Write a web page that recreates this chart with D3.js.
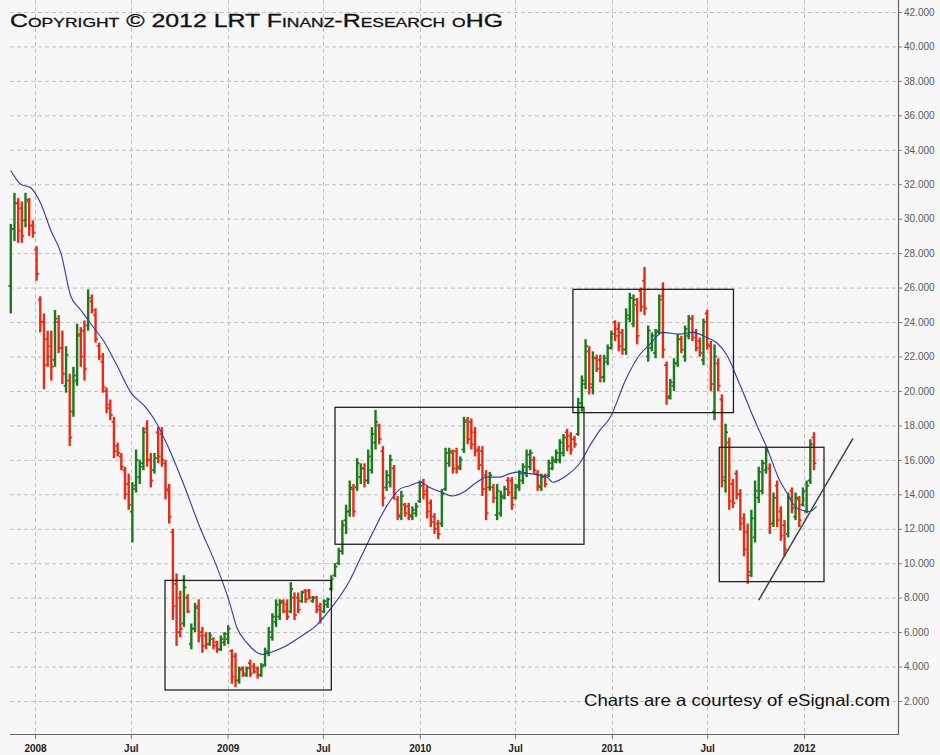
<!DOCTYPE html>
<html>
<head>
<meta charset="utf-8">
<script src="https://cdn.jsdelivr.net/npm/d3@7"></script>
<style>
  body { margin: 0; background: #f7f7f7; }
  svg { display: block; }
</style>
</head>
<body>
<svg id="chart" width="940" height="755"></svg>
<script>
// weekly bars, first bar week
const firstWeek = "2007-11-16";

const opens = [
  26.1,29.4,30.9,30.6,29.9,31.0,29.6,28.2,25.3,24.0,
  23.0,22.6,21.8,24.0,22.5,20.3,20.6,18.8,20.6,23.3,
  23.5,23.8,25.2,24.4,22.6,21.7,20.0,19.2,18.2,16.8,
  16.2,15.4,14.6,13.0,14.5,15.0,15.8,17.8,16.0,15.4,
  17.6,17.5,15.8,14.2,11.8,8.8,8.0,6.5,8.0,5.3,
  6.2,7.5,6.0,5.8,5.3,5.6,5.4,5.0,5.4,5.6,
  4.9,4.6,3.2,3.9,3.5,4.2,4.0,3.9,3.5,4.1,
  4.8,5.7,6.6,6.9,7.8,7.6,7.2,8.0,8.0,7.8,
  8.4,8.4,7.8,8.0,7.5,7.2,7.6,8.5,9.3,10.0,
  10.7,12.5,13.0,14.3,14.4,15.0,15.5,14.8,15.4,17.0,
  18.0,16.5,14.4,14.7,15.5,13.7,12.7,13.4,13.3,12.7,
  12.9,13.6,14.7,14.2,13.5,12.7,12.3,12.3,14.3,15.8,
  16.4,16.5,15.5,16.6,18.3,18.2,17.6,16.6,16.5,15.1,
  14.4,14.4,12.8,12.9,13.8,14.8,14.8,13.8,14.4,14.8,
  15.2,15.6,16.0,15.2,14.4,15.0,15.1,15.5,15.9,16.0,
  16.4,17.6,17.4,17.2,17.5,19.3,20.4,22.3,20.2,21.9,
  21.8,20.8,21.7,22.5,24.0,23.6,23.4,22.4,24.2,23.9,
  25.0,25.8,26.4,22.0,22.5,22.2,23.5,25.5,21.5,19.7,
  20.3,21.6,23.0,22.0,23.2,24.2,23.4,22.9,21.8,24.5,
  22.6,18.8,21.6,19.5,14.8,17.0,14.6,15.2,14.0,12.6,
  11.8,9.5,11.5,13.8,14.2,15.4,15.5,12.3,14.5,13.0,
  12.2,11.7,14.2,12.7,13.7,13.4,13.0,14.8,17.3
];
const highs = [
  29.7,31.5,31.2,31.0,31.5,31.2,29.9,28.4,25.5,24.5,
  23.5,23.5,24.7,24.4,23.5,22.6,21.0,21.4,23.9,23.7,
  24.1,25.9,25.6,24.8,22.8,22.2,20.2,19.5,18.5,17.0,
  16.4,15.6,15.2,14.7,16.6,16.0,17.9,18.3,16.4,16.4,
  17.9,17.9,16.0,14.6,12.0,9.4,8.4,9.3,8.2,6.5,
  7.7,7.9,6.3,6.0,6.0,5.7,5.5,5.8,6.0,6.4,
  5.0,4.8,4.0,4.0,4.0,4.4,4.2,4.0,4.2,5.1,
  6.3,7.1,7.9,7.9,7.9,7.9,8.9,8.3,8.3,8.4,
  8.5,8.5,8.1,8.1,7.7,7.9,8.0,9.3,10.0,10.9,
  12.5,13.4,14.8,14.6,16.1,15.8,15.8,16.6,17.9,18.9,
  18.1,16.8,15.4,16.3,15.7,13.9,14.2,13.5,13.5,13.3,
  13.5,14.8,14.9,14.5,13.7,12.9,12.5,14.3,16.7,16.7,
  16.6,16.7,16.2,18.5,18.5,18.4,17.9,16.8,16.8,15.4,
  15.3,14.6,14.6,14.2,14.5,15.0,15.0,14.6,15.4,15.8,
  16.6,16.6,16.2,15.4,15.2,15.2,16.0,16.2,16.6,17.2,
  17.5,17.8,17.6,17.4,19.6,20.9,23.0,22.6,22.3,22.1,
  22.1,22.1,22.7,23.5,24.1,24.0,23.6,24.8,25.7,25.6,
  25.4,26.0,27.2,23.8,23.4,23.6,25.6,26.3,21.7,20.7,
  21.9,23.3,23.2,23.8,24.4,24.4,23.6,23.1,24.2,24.7,
  22.9,22.7,21.9,19.8,18.1,17.3,14.9,15.4,14.3,12.9,
  12.3,13.1,14.8,15.6,16.0,16.7,15.8,14.1,14.8,13.3,
  12.5,14.1,14.4,14.1,13.9,14.4,14.8,17.2,17.6
];
const lows = [
  24.5,28.7,28.6,28.6,29.5,29.0,28.9,26.4,23.4,20.1,
  21.4,20.6,21.4,22.2,20.4,19.9,16.8,18.5,20.3,21.4,
  20.6,23.5,24.5,22.8,21.8,19.9,18.7,18.3,16.1,16.2,
  15.4,13.7,13.1,11.2,14.1,14.6,15.4,15.6,14.4,15.2,
  15.8,15.6,13.7,12.3,6.7,5.2,5.7,6.3,7.1,5.0,
  6.0,5.4,4.8,5.0,5.2,5.0,4.8,4.9,5.2,5.3,
  3.0,2.8,3.0,3.4,3.4,3.4,3.6,3.3,3.4,4.0,
  4.6,5.5,6.3,6.7,7.1,6.7,7.1,6.7,7.1,7.7,
  7.7,7.9,7.7,7.1,6.5,7.1,7.4,8.4,9.2,9.9,
  10.5,11.7,12.7,12.7,14.2,14.6,14.4,14.6,15.2,16.6,
  16.9,13.3,14.2,14.4,13.7,12.5,12.5,12.7,12.5,12.5,
  12.7,13.5,13.7,12.6,12.1,11.7,11.4,12.1,14.2,15.6,
  15.2,15.2,15.4,16.4,16.9,16.6,16.2,15.4,13.9,12.5,
  14.2,13.5,12.5,12.7,13.7,13.9,13.1,13.7,14.2,14.6,
  15.0,15.4,15.2,14.2,14.2,14.4,15.0,15.4,15.8,15.8,
  16.2,16.5,16.3,16.7,17.4,18.8,20.1,19.8,19.8,21.1,
  20.5,20.5,21.5,22.4,22.9,22.3,22.1,22.1,24.0,23.7,
  22.7,24.6,24.4,21.7,22.3,21.9,23.3,21.9,19.2,19.5,
  20.0,21.4,22.2,21.7,23.0,22.9,22.3,22.0,21.5,22.4,
  20.0,18.3,20.0,14.4,14.1,13.1,13.2,13.7,11.9,10.4,
  8.8,9.2,11.2,13.5,14.0,15.2,11.7,12.1,12.1,11.3,
  10.4,11.5,12.9,12.5,12.1,13.3,12.9,14.6,15.4
];
const closes = [
  29.4,30.9,29.3,29.0,31.1,29.6,29.2,26.8,24.0,21.5,
  22.0,21.4,24.2,22.5,21.0,22.1,17.3,20.9,23.2,22.0,
  21.3,25.4,24.7,23.0,22.0,20.2,19.0,18.6,16.5,16.4,
  15.6,14.0,13.4,14.3,16.0,15.6,17.6,16.0,14.8,16.1,
  16.2,16.0,14.3,12.7,7.5,6.0,6.2,8.6,7.2,6.2,
  7.4,5.8,5.2,5.3,5.8,5.2,5.0,5.6,5.9,6.2,
  3.4,3.2,3.8,3.6,3.9,3.6,3.7,3.5,4.0,4.9,
  6.0,6.9,7.6,7.7,7.2,6.9,8.5,7.0,7.3,8.3,
  7.9,8.0,8.0,7.3,6.8,7.8,7.9,9.1,9.8,10.7,
  12.2,13.0,14.4,13.0,15.8,15.5,14.8,16.2,17.5,18.2,
  17.2,13.8,15.1,16.0,14.0,12.8,13.9,12.9,12.8,13.1,
  13.3,14.5,14.0,13.0,12.4,12.0,11.7,14.0,16.4,16.5,
  15.5,15.6,16.0,18.2,17.2,16.9,16.5,15.7,14.3,12.9,
  15.1,13.8,14.2,13.9,14.3,14.1,13.4,14.5,15.2,15.6,
  16.3,16.4,15.4,14.5,15.0,14.6,15.8,16.0,16.4,17.0,
  17.3,16.8,16.6,16.9,19.3,20.6,22.6,20.4,21.9,21.3,
  20.8,21.9,22.5,23.3,23.2,22.6,22.4,24.4,25.4,25.3,
  23.2,24.9,24.8,23.5,23.2,23.4,25.3,22.4,19.6,20.5,
  21.6,23.0,22.4,23.6,24.2,23.1,22.5,22.2,24.0,22.7,
  20.4,22.0,20.3,15.0,17.6,13.6,13.5,14.0,12.3,10.8,
  9.3,12.6,14.2,15.3,15.8,16.5,12.3,13.8,12.5,11.6,
  10.8,13.8,13.2,13.8,12.5,14.2,14.5,16.9,15.8
];

// moving average (week number from first bar, value)
const maWeeks = [0,2.7,5.4,8.1,10.9,13.6,16.3,19.0,21.7,25.5,29.0,32.6,36.4,39.1,42.6,46.7,51.3,55.9,59.4,61.3,
  64.0,68.4,70.3,73.8,78.4,83.0,86.6,92.0,94.7,97.4,102.0,105.6,108.3,111.0,113.7,117.2,119.9,122.7,126.5,129.2,
  132.7,135.4,138.1,140.8,145.5,147.1,150.9,154.4,157.1,159.8,162.5,167.2,170.7,173.4,176.9,181.5,185.1,188.9,191.6,194.3,
  197.8,201.9,205.2,208.7,210.6,213.3,216.8,218.7];
const maValues = [32.8,32.0,31.8,30.9,29.3,28.0,25.5,24.7,23.9,22.8,21.4,19.9,19.1,18.3,16.8,14.7,12.1,9.8,7.7,6.3,
  5.4,4.7,4.8,5.1,5.7,6.4,7.3,9.0,10.2,11.4,13.3,14.3,14.5,14.7,14.4,14.1,13.9,14.1,14.7,15.0,
  15.0,15.2,15.3,15.2,15.0,14.7,15.1,15.8,16.8,17.7,18.4,20.8,22.1,22.7,23.4,23.3,23.4,23.1,22.8,22.1,
  20.4,18.3,16.7,14.8,14.1,13.2,13.0,13.3];

const xTickDates = ["2008-01-01","2008-07-01","2009-01-01","2009-07-01","2010-01-01","2010-07-01","2011-01-01","2011-07-01","2012-01-01"];
const xTickLabels = ["2008","Jul","2009","Jul","2010","Jul","2011","Jul","2012"];
const yTicks = d3.range(2, 43, 2);

// annotation boxes and trend line
const boxStarts = ["2008-09-04","2009-07-24","2010-10-19","2011-07-24"];
const boxEnds = ["2009-07-17","2010-11-09","2011-08-20","2012-02-08"];
const boxTops = [9.0, 19.05, 25.9, 16.73];
const boxBottoms = [2.64, 11.1, 18.74, 8.93];
const trendDates = ["2011-10-07","2012-04-03"];
const trendValues = [7.86, 17.25];

const parse = d3.utcParse("%Y-%m-%d");
const t0 = parse(firstWeek).getTime();
const weekDate = w => new Date(t0 + w * 7 * 864e5);

const svg = d3.select("#chart");
const plotLeft = 10, plotRight = 898, plotTop = 0, plotBottom = 734;

const x = d3.scaleUtc()
  .domain([parse("2008-01-01"), parse("2012-01-01")])
  .range([35, 804]);
const y = d3.scaleLinear().domain([2, 42]).range([701, 12]);

const de = d3.formatLocale({decimal: ",", thousands: ".", grouping: [3], currency: ["", ""]});
const fmt = de.format(",.0f");

svg.append("rect").attr("width", 940).attr("height", 755).attr("fill", "#f7f7f7");

svg.append("defs").append("clipPath").attr("id", "plot-clip")
  .append("rect").attr("x", plotLeft - 2).attr("y", plotTop)
  .attr("width", plotRight - plotLeft + 2).attr("height", plotBottom - plotTop);

// grid
const grid = svg.append("g").attr("stroke", "#c0c0c0").attr("stroke-dasharray", "4,3").attr("stroke-width", 1);
grid.selectAll(".hg").data(yTicks).enter().append("line")
  .attr("x1", plotLeft).attr("x2", plotRight)
  .attr("y1", d => y(d) + 0.5).attr("y2", d => y(d) + 0.5);
grid.selectAll(".vg").data(xTickDates).enter().append("line")
  .attr("y1", plotTop).attr("y2", plotBottom)
  .attr("x1", d => Math.round(x(parse(d))) + 0.5).attr("x2", d => Math.round(x(parse(d))) + 0.5);

// copyright
svg.append("text")
  .attr("x", 10).attr("y", 27)
  .attr("font-family", "Liberation Sans, Arial, sans-serif")
  .attr("font-size", 18.5)
  .attr("font-variant", "small-caps")
  .attr("fill", "#111")
  .attr("stroke", "#111").attr("stroke-width", 0.3)
  .attr("textLength", 493).attr("lengthAdjust", "spacingAndGlyphs")
  .text("Copyright \u00a9 2012 LRT Finanz-Research oHG");

svg.append("text")
  .attr("x", 584).attr("y", 706)
  .attr("font-family", "Liberation Sans, Arial, sans-serif")
  .attr("font-size", 16.5)
  .attr("fill", "#111")
  .attr("textLength", 306).attr("lengthAdjust", "spacingAndGlyphs")
  .text("Charts are a courtesy of eSignal.com");

const marks = svg.append("g").attr("clip-path", "url(#plot-clip)");

// OHLC bars
const bars = opens.map((o, i) => ({date: weekDate(i), o: o, h: highs[i], l: lows[i], c: closes[i]}));
const bar = marks.selectAll(".bar").data(bars).enter().append("g")
  .attr("stroke", d => d.c >= d.o ? "#1b7a1b" : "#e52d16");
bar.append("line")
  .attr("x1", d => x(d.date)).attr("x2", d => x(d.date))
  .attr("y1", d => y(d.h)).attr("y2", d => y(d.l))
  .attr("stroke-width", 2.4);
bar.append("line")
  .attr("x1", d => x(d.date) - 2.4).attr("x2", d => x(d.date))
  .attr("y1", d => y(d.o)).attr("y2", d => y(d.o))
  .attr("stroke-width", 1.8);
bar.append("line")
  .attr("x1", d => x(d.date)).attr("x2", d => x(d.date) + 2.4)
  .attr("y1", d => y(d.c)).attr("y2", d => y(d.c))
  .attr("stroke-width", 1.8);

// moving average
const ma = maWeeks.map((w, i) => ({date: weekDate(w), v: maValues[i]}));
marks.append("path").datum(ma)
  .attr("fill", "none").attr("stroke", "#2a3bb0").attr("stroke-width", 1.1)
  .attr("d", d3.line().x(d => x(d.date)).y(d => y(d.v)).curve(d3.curveMonotoneX));

// boxes
marks.selectAll(".box").data(boxStarts).enter().append("rect")
  .attr("x", d => x(parse(d)))
  .attr("y", (d, i) => y(boxTops[i]))
  .attr("width", (d, i) => x(parse(boxEnds[i])) - x(parse(d)))
  .attr("height", (d, i) => y(boxBottoms[i]) - y(boxTops[i]))
  .attr("fill", "none").attr("stroke", "#222").attr("stroke-width", 1.3);

// trend line
marks.append("line")
  .attr("x1", x(parse(trendDates[0]))).attr("y1", y(trendValues[0]))
  .attr("x2", x(parse(trendDates[1]))).attr("y2", y(trendValues[1]))
  .attr("stroke", "#444").attr("stroke-width", 1.5);

// axes
const yAxis = d3.axisRight(y).tickValues(yTicks).tickSize(4).tickPadding(2).tickFormat(d => fmt(d * 1000));
const gy = svg.append("g").attr("transform", `translate(${plotRight},0)`).call(yAxis);
gy.select(".domain").remove();
gy.selectAll("line").attr("stroke", "#777");
gy.selectAll("text").attr("font-family", "Liberation Sans, Arial, sans-serif").attr("font-size", 10).attr("fill", "#5a5a5a");
svg.append("line").attr("x1", plotRight + 0.5).attr("x2", plotRight + 0.5).attr("y1", 0).attr("y2", plotBottom + 0.5)
  .attr("stroke", "#666").attr("stroke-width", 1.2);

const xAxis = d3.axisBottom(x).tickValues(xTickDates.map(parse)).tickSize(5).tickPadding(6)
  .tickFormat((d, i) => xTickLabels[i]);
const gx = svg.append("g").attr("transform", `translate(0,${plotBottom})`).call(xAxis);
gx.select(".domain").remove();
gx.selectAll("line").attr("stroke", "#777");
gx.selectAll("text").attr("font-family", "Liberation Sans, Arial, sans-serif").attr("font-size", 10)
  .attr("font-weight", "bold").attr("fill", "#222");
svg.append("line").attr("x1", plotLeft).attr("x2", plotRight + 1).attr("y1", plotBottom + 0.5).attr("y2", plotBottom + 0.5)
  .attr("stroke", "#666").attr("stroke-width", 1.2);
</script>
</body>
</html>
